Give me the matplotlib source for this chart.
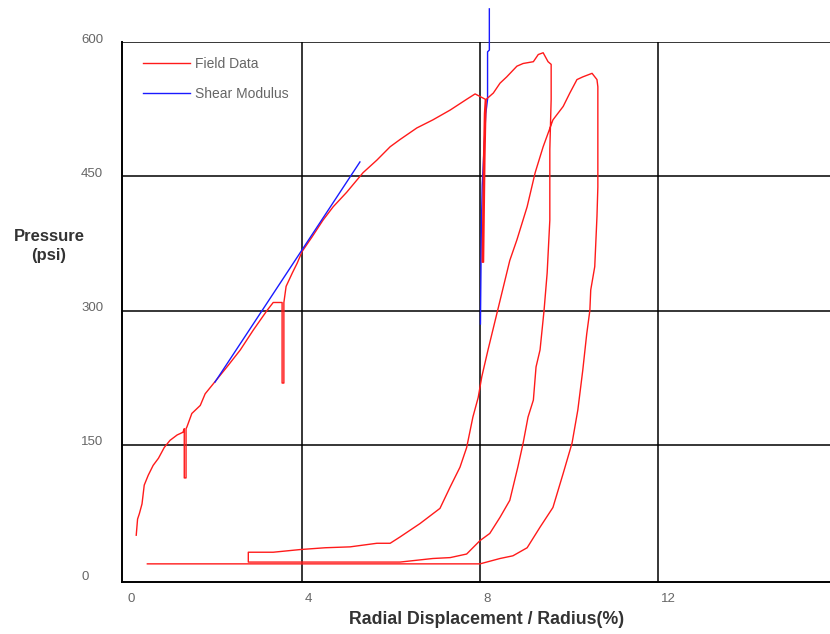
import numpy as np
import matplotlib
matplotlib.use("Agg")
from matplotlib import pyplot as plt
from matplotlib.transforms import ScaledTranslation

plt.rcParams['font.family'] = ['Liberation Sans', 'DejaVu Sans']

# Field data: loading curve with holds, then two unload/reload loops
field_x = [0.27, 0.30, 0.34, 0.40, 0.45, 0.54, 0.65, 0.77, 0.90, 1.03, 1.19, 1.32,
           1.35, 1.35, 1.39, 1.39,
           1.41, 1.52, 1.71, 1.82, 2.00, 2.31, 2.61, 2.90, 3.21, 3.35, 3.55,
           3.55, 3.59, 3.59,
           3.64, 3.78, 3.89, 4.00, 4.22, 4.47, 4.70, 5.00, 5.37, 5.68, 5.98, 6.20,
           6.58, 6.94, 7.33, 7.70, 7.89, 8.04, 8.12,
           8.10, 8.08, 8.05, 8.08, 8.11, 8.13, 8.14,
           8.30, 8.45, 8.60, 8.83, 8.97, 9.20, 9.31, 9.42, 9.53, 9.60, 9.60, 9.57,
           9.57, 9.51, 9.44, 9.35, 9.26, 9.20, 9.08, 8.97, 8.85, 8.67, 8.45, 8.22,
           8.00, 7.70, 7.33, 6.94, 6.20, 2.79, 2.79,
           3.35, 3.96, 4.52, 5.08, 5.68, 5.98, 6.20, 6.65, 7.10, 7.33, 7.55, 7.70,
           7.84, 7.96, 8.04, 8.18, 8.38, 8.52, 8.67, 8.83, 9.06, 9.24, 9.42, 9.64,
           9.87, 10.02, 10.18, 10.31, 10.52, 10.63, 10.65, 10.65, 10.63, 10.58,
           10.49, 10.47, 10.40, 10.31, 10.20, 10.07, 9.87, 9.64, 9.35, 9.06, 8.74,
           8.45, 8.00, 0.52]
field_y = [49, 67, 73, 84, 105, 116, 127, 135, 147, 155, 161, 164,
           168, 113, 113, 168,
           170, 185, 194, 207, 218, 237, 256, 278, 300, 309, 309,
           219, 219, 309,
           327, 342, 353, 366, 382, 401, 416, 432, 454, 468, 483, 491,
           504, 513, 524, 536, 542, 538, 536,
           520, 470, 354, 354, 470, 520, 536,
           543, 554, 561, 573, 576, 578, 586, 588, 578, 575, 536, 480,
           401, 342, 300, 256, 237, 200, 181, 152, 125, 88, 69, 51,
           43, 28, 24, 23, 19, 19, 30,
           30, 33, 35, 36, 40, 40, 47, 62, 79, 103, 125, 147,
           181, 203, 226, 256, 297, 326, 356, 379, 416, 454, 483, 513,
           528, 543, 558, 561, 565, 558, 550, 438, 405, 349,
           323, 300, 274, 233, 189, 152, 118, 80, 58, 35, 26,
           23, 17, 17]

# Shear modulus fits
shear1_x = [2.04, 5.30]
shear1_y = [220, 466]
shear2_x = [8.01, 8.03, 8.05, 8.13, 8.17, 8.17, 8.21, 8.21]
shear2_y = [285, 392, 440, 520, 536, 589, 591, 637]

xticks = [0, 4, 8, 12]
yticks = [0, 150, 300, 450, 600]

fig = plt.figure(figsize=(8.3, 6.34), dpi=100)
ax = fig.add_axes([122 / 830, 1 - 581.5 / 634, 708 / 830, 539.5 / 634])

ax.plot(field_x, field_y, color='#ff1a1a', lw=1.0, label='Field Data', zorder=3)
ax.plot(shear1_x, shear1_y, color='#1a1aff', lw=1.0, label='Shear Modulus', zorder=4)
ax.plot(shear2_x, shear2_y, color='#1a1aff', lw=1.0, zorder=2, clip_on=False)

ax.set_xlim(-0.05, 15.87)
ax.set_ylim(-2.7, 600)
ax.set_xticks(xticks)
ax.set_yticks(yticks)
ax.grid(True, color='black', lw=1.1)
ax.set_axisbelow(True)
# the first gridlines sit on the spines
ax.xaxis.get_gridlines()[0].set_visible(False)
ax.yaxis.get_gridlines()[0].set_visible(False)

for side in ['top', 'right']:
    ax.spines[side].set_visible(False)
for side in ['left', 'bottom']:
    ax.spines[side].set_linewidth(1.4)

ax.tick_params(axis='both', length=0, labelsize=9.5, labelcolor='#666666')
ax.tick_params(axis='y', pad=29.5)
ax.tick_params(axis='x', pad=8)
for lab in ax.get_yticklabels():
    lab.set_horizontalalignment('left')
    lab.set_transform(lab.get_transform() + ScaledTranslation(0, 4 / 100, fig.dpi_scale_trans))
for lab in ax.get_xticklabels():
    lab.set_horizontalalignment('left')
    lab.set_transform(lab.get_transform() + ScaledTranslation(3 / 100, 0, fig.dpi_scale_trans))

fig.text(49 / 830, 1 - 246 / 634, 'Pressure\n(psi)', ha='center', va='center',
         fontsize=12, fontweight='bold', color='#333333', linespacing=1.3)
fig.text(487 / 830, 1 - 620 / 634, 'Radial Displacement / Radius(%)', ha='center',
         va='center', fontsize=12.8, fontweight='bold', color='#333333')

leg = ax.legend(loc='upper left', bbox_to_anchor=(0.029, 0.973), frameon=False,
                fontsize=10, handlelength=3.4, handletextpad=0.4, labelspacing=1.2,
                borderpad=0, borderaxespad=0)
for t in leg.get_texts():
    t.set_color('#666666')

fig.savefig('out.png', dpi=100)
